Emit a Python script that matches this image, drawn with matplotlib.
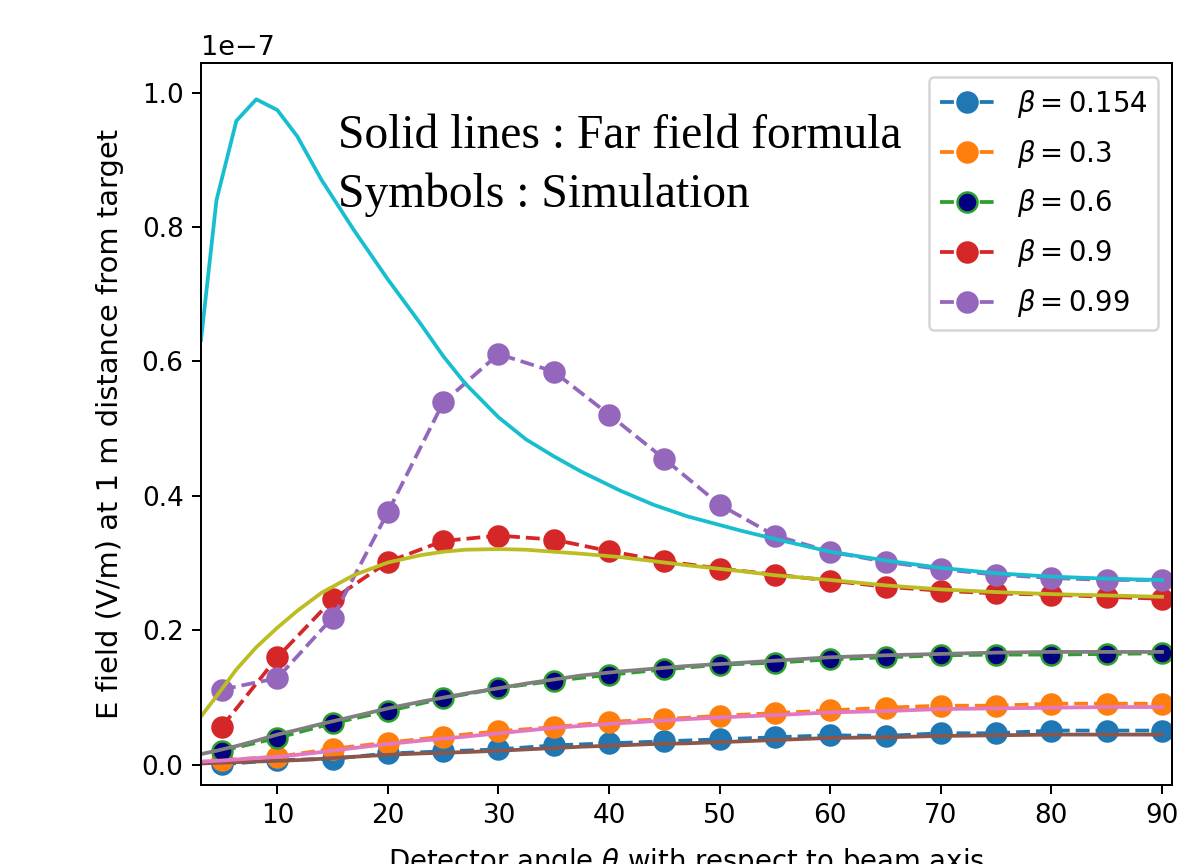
import matplotlib
matplotlib.use('Agg')
import matplotlib.pyplot as plt

# simulation angles (deg)
theta_sim = [5, 10, 15, 20, 25, 30, 35, 40, 45, 50, 55, 60, 65, 70, 75, 80, 85, 90]

# simulated E field, units of 1e-7 V/m
sim_0154 = [0.001, 0.007, 0.009, 0.017, 0.020, 0.023, 0.029, 0.032, 0.035, 0.038,
            0.041, 0.044, 0.043, 0.047, 0.047, 0.051, 0.051, 0.051]
sim_03 = [0.007, 0.012, 0.024, 0.033, 0.042, 0.050, 0.056, 0.064, 0.068, 0.073,
          0.077, 0.081, 0.085, 0.088, 0.088, 0.091, 0.091, 0.091]
sim_06 = [0.021, 0.040, 0.062, 0.080, 0.099, 0.114, 0.125, 0.134, 0.142, 0.149,
          0.152, 0.157, 0.160, 0.163, 0.164, 0.164, 0.165, 0.166]
sim_09 = [0.057, 0.160, 0.246, 0.302, 0.333, 0.341, 0.335, 0.318, 0.303, 0.292,
          0.283, 0.274, 0.265, 0.259, 0.255, 0.253, 0.250, 0.247]
sim_099 = [0.112, 0.129, 0.219, 0.376, 0.539, 0.611, 0.585, 0.521, 0.455, 0.387,
           0.341, 0.317, 0.302, 0.291, 0.283, 0.278, 0.275, 0.275]

# far field formula curves
theta_ff = [3.1, 4.5, 6.3, 8.1, 10, 11.8, 14, 16.9, 20, 23, 25, 27, 30, 32.5, 35,
            37.5, 41, 44, 47, 52, 55, 60, 65, 70, 75, 80, 85, 90]
ff_0154 = [0.002, 0.003, 0.004, 0.005, 0.006, 0.007, 0.009, 0.012, 0.015, 0.017,
           0.018, 0.019, 0.021, 0.023, 0.025, 0.027, 0.029, 0.031, 0.032, 0.035,
           0.037, 0.040, 0.041, 0.043, 0.044, 0.045, 0.045, 0.045]
ff_03 = [0.005, 0.006, 0.008, 0.010, 0.012, 0.015, 0.019, 0.025, 0.031, 0.036,
         0.039, 0.042, 0.047, 0.051, 0.055, 0.058, 0.062, 0.065, 0.068, 0.072,
         0.074, 0.078, 0.080, 0.083, 0.084, 0.085, 0.086, 0.086]
ff_06 = [0.016, 0.021, 0.028, 0.036, 0.045, 0.052, 0.061, 0.072, 0.084, 0.094,
         0.100, 0.106, 0.114, 0.121, 0.127, 0.133, 0.139, 0.143, 0.147, 0.152,
         0.155, 0.160, 0.163, 0.165, 0.167, 0.168, 0.168, 0.168]
ff_09 = [0.072, 0.102, 0.142, 0.175, 0.204, 0.229, 0.256, 0.282, 0.301, 0.312,
         0.317, 0.320, 0.321, 0.320, 0.317, 0.314, 0.309, 0.303, 0.297, 0.288,
         0.282, 0.275, 0.267, 0.261, 0.257, 0.254, 0.252, 0.250]
ff_099 = [0.632, 0.840, 0.958, 0.990, 0.974, 0.935, 0.870, 0.796, 0.722, 0.655,
          0.608, 0.567, 0.517, 0.484, 0.459, 0.436, 0.408, 0.387, 0.370, 0.348,
          0.336, 0.317, 0.304, 0.293, 0.285, 0.280, 0.277, 0.275]

labels = [r'$\beta=0.154$', r'$\beta=0.3$', r'$\beta=0.6$', r'$\beta=0.9$', r'$\beta=0.99$']
sims = [sim_0154, sim_03, sim_06, sim_09, sim_099]
ffs = [ff_0154, ff_03, ff_06, ff_09, ff_099]
sim_colors = ['tab:blue', 'tab:orange', 'tab:green', 'tab:red', 'tab:purple']
face_colors = ['tab:blue', 'tab:orange', 'navy', 'tab:red', 'tab:purple']
ff_colors = ['tab:brown', 'tab:pink', 'tab:gray', 'tab:olive', 'tab:cyan']

fig = plt.figure(figsize=(6.6, 4.8), dpi=180)
ax = fig.add_axes([0.1692, 0.0914, 0.8173, 0.8357])

for vals, lab, c, fc in zip(sims, labels, sim_colors, face_colors):
    ax.plot(theta_sim, [v * 1e-7 for v in vals], '--o', color=c,
            markerfacecolor=fc, markersize=8, label=lab)

ax.legend(loc='upper right', fontsize=11, labelspacing=0.65)

for vals, c in zip(ffs, ff_colors):
    ax.plot(theta_ff, [v * 1e-7 for v in vals], '-', color=c)

ax.set_xlim(3.1, 90.9)
ax.set_ylim(-0.030e-7, 1.044e-7)
ax.tick_params(labelsize=10.5)
ax.yaxis.get_offset_text().set_fontsize(10.8)
ax.set_xlabel(r'Detector angle $\theta$ with respect to beam axis', fontsize=11,
              labelpad=7)
ax.set_ylabel('E field (V/m) at 1 m distance from target', fontsize=11.6,
              labelpad=7)

ax.text(0.141, 0.80, 'Solid lines : Far field formula\nSymbols : Simulation',
        transform=ax.transAxes, family='Liberation Serif', fontsize=19,
        va='baseline', ha='left', linespacing=1.42)

fig.savefig('out.png', dpi=180)
